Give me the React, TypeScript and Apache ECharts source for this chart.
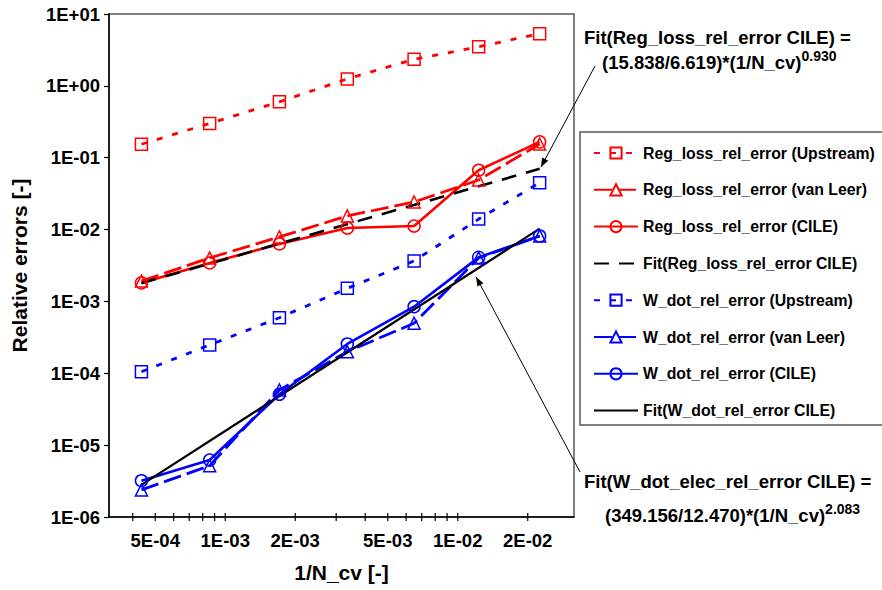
import React, { useEffect, useRef } from 'react';
import * as echarts from 'echarts';

const FONT = '"Liberation Sans", Arial, Helvetica, sans-serif';

// 1/N_cv values (x)
const xValues = [4.36e-4, 8.57e-4, 1.71e-3, 3.35e-3, 6.49e-3, 1.23e-2, 2.25e-2];
// Series values (y)
const regLossUpstream = [0.154, 0.3, 0.6, 1.25, 2.34, 3.5, 5.3];
const regLossVanLeer = [1.92e-3, 4.03e-3, 7.9e-3, 1.55e-2, 2.42e-2, 4.9e-2, 0.155];
const regLossCILE = [1.81e-3, 3.43e-3, 6.3e-3, 1.05e-2, 1.12e-2, 6.7e-2, 0.166];
const wDotUpstream = [1.05e-4, 2.48e-4, 5.94e-4, 1.52e-3, 3.66e-3, 1.4e-2, 4.49e-2];
const wDotVanLeer = [2.38e-6, 5.18e-6, 5.86e-5, 2.0e-4, 4.97e-4, 4.03e-3, 8.15e-3];
const wDotCILE = [3.2e-6, 6.2e-6, 5.1e-5, 2.56e-4, 8.45e-4, 4.1e-3, 8.15e-3];
// Fit lines (end points)
const fitX = [4.36e-4, 2.25e-2];
const fitRegLoss = [1.79e-3, 7.0e-2];
const fitWDot = [2.8e-6, 1.03e-2];

// Axis ticks
const xTickValues = [4e-4, 5e-4, 6e-4, 7e-4, 8e-4, 9e-4, 1e-3, 2e-3, 3e-3, 4e-3, 5e-3, 6e-3, 7e-3, 8e-3, 9e-3, 1e-2, 2e-2];
const xTickLabels = ['', '5E-04', '', '', '', '', '1E-03', '2E-03', '', '', '5E-03', '', '', '', '', '1E-02', '2E-02'];
const yTickLabels = ['1E-06', '1E-05', '1E-04', '1E-03', '1E-02', '1E-01', '1E+00', '1E+01'];

// Annotation anchor points (data coords the arrows point to)
const arrowRegTip = [0.0228, 0.074];
const arrowWTip = [0.012, 2.19e-3];

const RED = '#ff0000';
const BLUE = '#0000ff';
const BLACK = '#000000';
const CLEAR = 'rgba(255,255,255,0)';

function mk(name: string, xs: number[], ys: number[], color: string, lineType: any, width: number, symbol: string) {
  const hasSym = symbol !== 'none';
  return {
    name,
    type: 'line',
    data: xs.map((x, i) => [x, ys[i]]),
    symbol,
    symbolSize: 12,
    showSymbol: hasSym,
    lineStyle: { color, width, type: lineType },
    itemStyle: hasSym
      ? { color: CLEAR, borderColor: color, borderWidth: 1.5 }
      : { color: CLEAR, borderColor: CLEAR, borderWidth: 0 },
    emphasis: { disabled: true },
    z: 3,
  };
}

function arrowHead(tip: number[], tail: number[], len = 9, half = 3.5) {
  const dx = tip[0] - tail[0];
  const dy = tip[1] - tail[1];
  const L = Math.sqrt(dx * dx + dy * dy);
  const ux = dx / L, uy = dy / L;
  const bx = tip[0] - ux * len, by = tip[1] - uy * len;
  const nx = -uy, ny = ux;
  return [
    [tip[0], tip[1]],
    [bx + nx * half, by + ny * half],
    [bx - nx * half, by - ny * half],
  ];
}

export default function App() {
  const ref = useRef<HTMLDivElement>(null);
  useEffect(() => {
    if (!ref.current) return;
    const chart = echarts.init(ref.current, null, { renderer: 'svg' });
    const names = [
      'Reg_loss_rel_error (Upstream)',
      'Reg_loss_rel_error (van Leer)',
      'Reg_loss_rel_error (CILE)',
      'Fit(Reg_loss_rel_error CILE)',
      'W_dot_rel_error (Upstream)',
      'W_dot_rel_error (van Leer)',
      'W_dot_rel_error (CILE)',
      'Fit(W_dot_rel_error CILE)',
    ];
    const option: any = {
      animation: false,
      backgroundColor: '#ffffff',
      textStyle: { fontFamily: FONT },
      grid: {
        left: 109, top: 14, width: 465, height: 503,
        show: true, borderColor: '#555', borderWidth: 1.5, backgroundColor: 'transparent',
      },
      legend: {
        orient: 'vertical', left: 593, top: 145, padding: 0,
        itemWidth: 44, itemHeight: 14, itemGap: 20.8,
        selectedMode: false,
        textStyle: { fontSize: 15.8, fontWeight: 'bold', color: '#000', fontFamily: FONT },
        data: names,
      },
      xAxis: {
        type: 'log', logBase: 10,
        min: Math.pow(10, -3.5), max: Math.pow(10, -1.5),
        axisLine: { show: true, onZero: false, lineStyle: { color: '#000', width: 1.5 } },
        axisTick: { show: false },
        axisLabel: { show: false },
        splitLine: { show: false },
        name: '1/N_cv [-]', nameLocation: 'middle', nameGap: 45,
        nameTextStyle: { fontSize: 21, fontWeight: 'bold', color: '#000', fontFamily: FONT },
      },
      yAxis: {
        type: 'log', logBase: 10, min: 1e-6, max: 10,
        axisLine: { show: true, onZero: false, lineStyle: { color: '#000', width: 1.5 } },
        axisTick: { show: true, length: 5, lineStyle: { color: '#000', width: 1.2 } },
        axisLabel: {
          fontSize: 18.5, fontWeight: 'bold', color: '#000', margin: 9, fontFamily: FONT,
          formatter: (v: number) => yTickLabels[Math.round(Math.log10(v)) + 6] ?? '',
        },
        splitLine: { show: false },
        name: 'Relative errors [-]', nameLocation: 'middle', nameGap: 79,
        nameTextStyle: { fontSize: 21, fontWeight: 'bold', color: '#000', fontFamily: FONT },
      },
      series: [
        mk(names[0], xValues, regLossUpstream, RED, [6, 10], 2.8, 'rect'),
        mk(names[1], xValues, regLossVanLeer, RED, [18, 6], 2.8, 'triangle'),
        mk(names[2], xValues, regLossCILE, RED, 'solid', 2.6, 'circle'),
        mk(names[3], fitX, fitRegLoss, BLACK, [15, 10], 2.6, 'none'),
        mk(names[4], xValues, wDotUpstream, BLUE, [6, 10], 2.8, 'rect'),
        mk(names[5], xValues, wDotVanLeer, BLUE, [18, 6], 2.8, 'triangle'),
        mk(names[6], xValues, wDotCILE, BLUE, 'solid', 2.6, 'circle'),
        mk(names[7], fitX, fitWDot, BLACK, 'solid', 2.3, 'none'),
        {
          name: 'xticks',
          type: 'custom',
          silent: true,
          clip: false,
          z: 5,
          data: xTickValues.map((v) => [v, 1e-6]),
          renderItem: (params: any, api: any) => {
            const p = api.coord([api.value(0), 1e-6]);
            const label = xTickLabels[params.dataIndex];
            const children: any[] = [
              {
                type: 'line',
                shape: { x1: p[0], y1: p[1] - 4, x2: p[0], y2: p[1] + 4 },
                style: { stroke: '#000', lineWidth: 1.2 },
              },
            ];
            if (label) {
              children.push({
                type: 'text',
                style: {
                  text: label, x: p[0], y: p[1] + 23, align: 'center', verticalAlign: 'middle',
                  fontSize: 18.5, fontWeight: 'bold', fontFamily: FONT, fill: '#000',
                },
              });
            }
            return { type: 'group', children };
          },
        },
      ],
    };
    chart.setOption(option);

    const tip1 = chart.convertToPixel({ gridIndex: 0 }, arrowRegTip) as number[];
    const tip2 = chart.convertToPixel({ gridIndex: 0 }, arrowWTip) as number[];
    const tail1 = [595, 66];
    const tail2 = [580, 472];
    const textBase = { fontSize: 18.5, fontWeight: 'bold', fontFamily: FONT, fill: '#000' };
    const supRich = { sup: { fontSize: 14, fontWeight: 'bold', fontFamily: FONT, lineHeight: 14, verticalAlign: 'top', fill: '#000' } };
    chart.setOption({
      graphic: [
        { type: 'rect', silent: true, shape: { x: 580, y: 132, width: 320, height: 293 }, style: { fill: 'none', stroke: '#555', lineWidth: 1.5 } },
        { type: 'text', silent: true, x: 584, y: 37, style: { ...textBase, text: 'Fit(Reg_loss_rel_error CILE) =', verticalAlign: 'middle' } },
        { type: 'text', silent: true, x: 602, y: 62, style: { ...textBase, lineHeight: 26, text: '(15.838/6.619)*(1/N_cv){sup|0.930}', verticalAlign: 'middle', rich: supRich } },
        { type: 'text', silent: true, x: 584, y: 481, style: { ...textBase, text: 'Fit(W_dot_elec_rel_error CILE) =', verticalAlign: 'middle' } },
        { type: 'text', silent: true, x: 605, y: 515, style: { ...textBase, lineHeight: 26, text: '(349.156/12.470)*(1/N_cv){sup|2.083}', verticalAlign: 'middle', rich: supRich } },
        { type: 'line', silent: true, shape: { x1: tail1[0], y1: tail1[1], x2: tip1[0], y2: tip1[1] }, style: { stroke: '#000', lineWidth: 1 } },
        { type: 'polygon', silent: true, shape: { points: arrowHead(tip1, tail1) }, style: { fill: '#000' } },
        { type: 'line', silent: true, shape: { x1: tail2[0], y1: tail2[1], x2: tip2[0], y2: tip2[1] }, style: { stroke: '#000', lineWidth: 1 } },
        { type: 'polygon', silent: true, shape: { points: arrowHead(tip2, tail2) }, style: { fill: '#000' } },
      ],
    });
    return () => chart.dispose();
  }, []);
  return <div ref={ref} style={{ position: 'absolute', left: 0, top: 0, width: 882, height: 590 }} />;
}
